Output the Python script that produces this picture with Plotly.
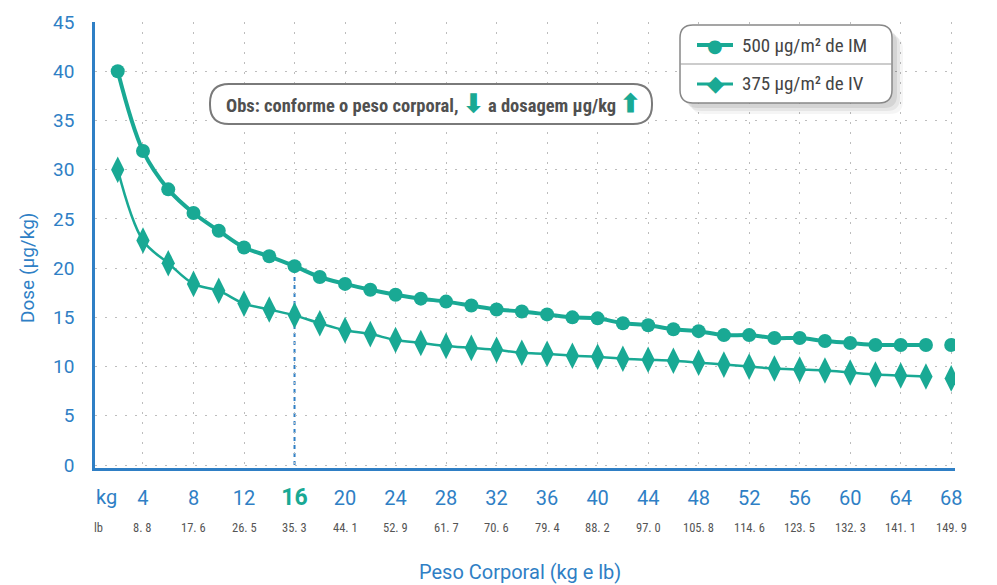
import plotly.graph_objects as go

# ---------------- data ----------------
kg = [2, 4, 6, 8, 10, 12, 14, 16, 18, 20, 22, 24, 26, 28, 30, 32, 34,
      36, 38, 40, 42, 44, 46, 48, 50, 52, 54, 56, 58, 60, 62, 64, 66, 68]
dose_im = [40.0, 31.9, 28.0, 25.6, 23.8, 22.1, 21.2, 20.2, 19.1, 18.4, 17.8, 17.3,
           16.9, 16.6, 16.2, 15.8, 15.6, 15.3, 15.0, 14.9, 14.4, 14.2, 13.8, 13.6,
           13.2, 13.2, 12.9, 12.9, 12.6, 12.4, 12.2, 12.2, 12.2, 12.2]
dose_iv = [30.0, 22.8, 20.5, 18.4, 17.7, 16.4, 15.8, 15.2, 14.4, 13.7, 13.3, 12.7,
           12.4, 12.1, 11.9, 11.7, 11.4, 11.3, 11.1, 11.0, 10.8, 10.7, 10.6, 10.4,
           10.2, 10.0, 9.8, 9.7, 9.6, 9.4, 9.2, 9.1, 9.0, 8.8]
kg_ticks = [4, 8, 12, 16, 20, 24, 28, 32, 36, 40, 44, 48, 52, 56, 60, 64, 68]
lb_ticks = [8.8, 17.6, 26.5, 35.3, 44.1, 52.9, 61.7, 70.6, 79.4, 88.2, 97.0,
            105.8, 114.6, 123.5, 132.3, 141.1, 149.9]
y_ticks = [0, 5, 10, 15, 20, 25, 30, 35, 40, 45]
highlight_kg = 16
name_im = "500 μg/m² de IM"
name_iv = "375 μg/m² de IV"

# ---------------- style ----------------
TEAL = "#19a994"
BLUE = "#2f7fc5"
GRID = "#bdbdbd"
GREY_TXT = "#444444"
NARROW = "Liberation Sans Narrow, Roboto Condensed, Roboto, Arial"
W, H = 997, 585
OFF = 8  # page body margin
# plot area in page pixels: x 95..955, y 22..468
L, T = 95 - OFF, 22 - OFF
R, B = W - (955 - OFF), H - (468 - OFF)
PW, PH = W - L - R, H - T - B


def px(x):  # page pixel -> paper
    return (x - OFF - L) / PW


def py(y):
    return (H - B - (y - OFF)) / PH


fig = go.Figure()

fig.add_trace(go.Scatter(x=kg[:-1], y=dose_im[:-1], mode="lines+markers", name=name_im,
                         line=dict(color=TEAL, width=4, shape="spline", smoothing=1.0),
                         marker=dict(symbol="circle", size=14, color=TEAL),
                         showlegend=False))
fig.add_trace(go.Scatter(x=kg[-1:], y=dose_im[-1:], mode="markers", name=name_im,
                         marker=dict(symbol="circle", size=14, color=TEAL),
                         showlegend=False))
fig.add_trace(go.Scatter(x=kg[:-1], y=dose_iv[:-1], mode="lines+markers", name=name_iv,
                         line=dict(color=TEAL, width=2.5, shape="spline", smoothing=1.0),
                         marker=dict(symbol="diamond-tall", size=19, color=TEAL),
                         showlegend=False))
fig.add_trace(go.Scatter(x=kg[-1:], y=dose_iv[-1:], mode="markers", name=name_iv,
                         marker=dict(symbol="diamond-tall", size=19, color=TEAL),
                         showlegend=False))

shapes = []
annotations = []


def note(x, y, text, size, color, family="Roboto", xref="paper", xanchor="center", **kw):
    annotations.append(dict(x=x, y=y, xref=xref, yref="paper", text=text, showarrow=False,
                            xanchor=xanchor, yanchor="middle",
                            font=dict(family=family, size=size, color=color), **kw))


# dashed marker line at 16 kg
hi = kg.index(highlight_kg)
shapes.append(dict(type="line", xref="x", yref="y", x0=highlight_kg, x1=highlight_kg,
                   y0=0, y1=dose_im[hi], line=dict(color=BLUE, width=2, dash="4px,4px"),
                   layer="below"))

# x tick text
ticktext = []
for v in kg_ticks:
    if v == highlight_kg:
        ticktext.append(f"<span style='color:{TEAL};font-size:23px'><b>{v}</b></span>")
    else:
        ticktext.append(str(v))

# lb row
for v, lb in zip(kg_ticks, lb_ticks):
    note(v, py(527), f"{lb:.1f}".replace(".", ". "), 12.5, "#555", family=NARROW, xref="x")
note(px(98), py(527), "lb", 12.5, "#555", family=NARROW)
note(px(106), py(497), "kg", 20, BLUE)

# axis titles
note(px(520), py(572), "Peso Corporal (kg e lb)", 20, BLUE)
note(px(27), py(268), "Dose (μg/kg)", 19, BLUE, textangle=-90)


def rounded_rect(x0, y0, x1, y1, r):
    X0, X1 = px(x0), px(x1)
    Y0, Y1 = py(y0), py(y1)
    rx, ry = r / PW, r / PH
    return (f"M {X0+rx},{Y0} L {X1-rx},{Y0} Q {X1},{Y0} {X1},{Y0-ry} "
            f"L {X1},{Y1+ry} Q {X1},{Y1} {X1-rx},{Y1} L {X0+rx},{Y1} "
            f"Q {X0},{Y1} {X0},{Y1+ry} L {X0},{Y0-ry} Q {X0},{Y0} {X0+rx},{Y0} Z")


# Obs pill
shapes.append(dict(type="path", xref="paper", yref="paper",
                   path=rounded_rect(210, 84, 652, 124, 19),
                   line=dict(color="#7a7a7a", width=2), fillcolor="white", layer="above"))
note(px(433), py(104),
     (f"<b>Obs: conforme o peso corporal, <span style='color:{TEAL};font-size:25px'>⬇</span>"
      f" a dosagem μg/kg <span style='color:{TEAL};font-size:25px'>⬆</span></b>"),
     18.5, "#505050", family=NARROW)

# legend box with soft shadow
for k, op in [(11, 0.04), (8, 0.06), (5, 0.08)]:
    shapes.append(dict(type="path", xref="paper", yref="paper",
                       path=rounded_rect(680 + k, 25 + k, 892 + k, 103 + k, 13),
                       line=dict(width=0), fillcolor=f"rgba(0,0,0,{op})", layer="above"))
shapes.append(dict(type="path", xref="paper", yref="paper",
                   path=rounded_rect(680, 25, 892, 103, 13),
                   line=dict(color="#888", width=1.5), fillcolor="white", layer="above"))
shapes.append(dict(type="line", xref="paper", yref="paper", x0=px(680), x1=px(892),
                   y0=py(64), y1=py(64), line=dict(color="#999", width=1.2), layer="above"))
for yy, w, glyph, gs, name in [(45, 4, "●", 18, name_im), (84, 3, "◆", 22, name_iv)]:
    shapes.append(dict(type="line", xref="paper", yref="paper", x0=px(697), x1=px(733),
                       y0=py(yy), y1=py(yy), line=dict(color=TEAL, width=w), layer="above"))
    note(px(715), py(yy), glyph, gs, TEAL, family="DejaVu Sans")
    note(px(740), py(yy), name, 19, GREY_TXT, family=NARROW, xanchor="left")

fig.update_layout(
    width=W, height=H, margin=dict(l=L, r=R, t=T, b=B),
    paper_bgcolor="white", plot_bgcolor="white",
    showlegend=False, shapes=shapes, annotations=annotations,
    xaxis=dict(range=[0.2, 68.3], tickmode="array", tickvals=kg_ticks, ticktext=ticktext,
               showgrid=True, gridcolor=GRID, griddash="2px,8px", gridwidth=1.2,
               zeroline=False, showline=True, linecolor=BLUE, linewidth=2.5,
               ticks="", ticklabelstandoff=10, automargin=False,
               tickfont=dict(family="Roboto", size=20, color=BLUE)),
    yaxis=dict(range=[-0.3, 45], tickmode="array", tickvals=y_ticks,
               showgrid=True, gridcolor=GRID, griddash="2px,8px", gridwidth=1.2,
               zeroline=False, showline=True, linecolor=BLUE, linewidth=2.5,
               ticks="", ticklabelstandoff=14, automargin=False,
               tickfont=dict(family="Roboto", size=19, color=BLUE)),
)

fig.write_html("out.html")
